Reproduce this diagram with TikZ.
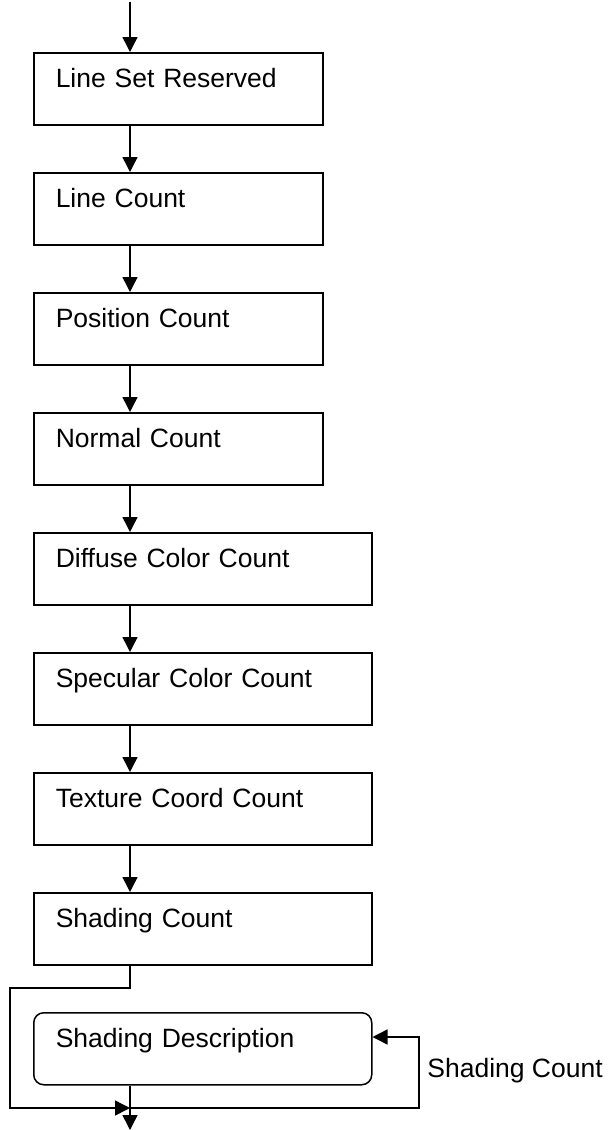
\documentclass[tikz,border=0pt]{standalone}
\usepackage{fontspec}
\setmainfont{Liberation Sans}
\usetikzlibrary{arrows.meta}

\begin{document}
\begin{tikzpicture}[
  x=0.5pt, y=-0.5pt,
  lsbox/.style = {draw, line width=0.75pt, rectangle, inner xsep=11pt, inner ysep=0pt,
    text height=17.5pt, text depth=18.5pt, align=left, anchor=north west,
    font=\fontsize{13.25}{16}\selectfont},
  lsnarrow/.style = {lsbox, text width=122.5pt},
  lswide/.style = {lsbox, text width=147pt},
  lsflow/.style = {line width=0.75pt, -{Triangle[length=7.5pt,width=7.5pt]}},
  lslbl/.style = {inner sep=0pt, anchor=base west, font=\fontsize{13.25}{16}\selectfont}
]
  \useasboundingbox (0,0) rectangle (607,1130);
  % spine and loop points
  \coordinate (spine) at (130,2);
  \coordinate (bypass) at (10,988);
  \coordinate (join) at (130,1108);
  \coordinate (loopR) at (419,1037);
  \coordinate (exit) at (130,1130);
  % boxes
  \foreach \n/\t/\txt in {1/52/Line Set Reserved, 2/172/Line Count,
                          3/292/Position Count, 4/412/Normal Count} {
    \node[lsnarrow] (b\n) at (33,\t) {\txt};
  }
  \foreach \n/\t/\txt in {5/532/Diffuse Color Count, 6/652/Specular Color Count,
                          7/772/Texture Coord Count, 8/892/Shading Count} {
    \node[lswide] (b\n) at (33,\t) {\txt};
  }
  \node[lswide, rounded corners=5pt] (desc) at (33,1012) {Shading Description};
  % arrows down the spine
  \draw[lsflow] (spine) -- (b1.north -| spine);
  \foreach \j [remember=\j as \i (initially 1)] in {2,...,8} {
    \draw[lsflow] (b\i.south -| spine) -- (b\j.north -| spine);
  }
  % bypass and repeat loop
  \draw[lsflow] (b8.south -| spine) |- (bypass) |- (join);
  \draw[lsflow] (join) -| (loopR) -- (loopR -| desc.east);
  \draw[lsflow] (desc.south -| spine) -- (exit);
  \node[lslbl] (cnt) at (427,1077) {Shading Count};
\end{tikzpicture}
\end{document}
